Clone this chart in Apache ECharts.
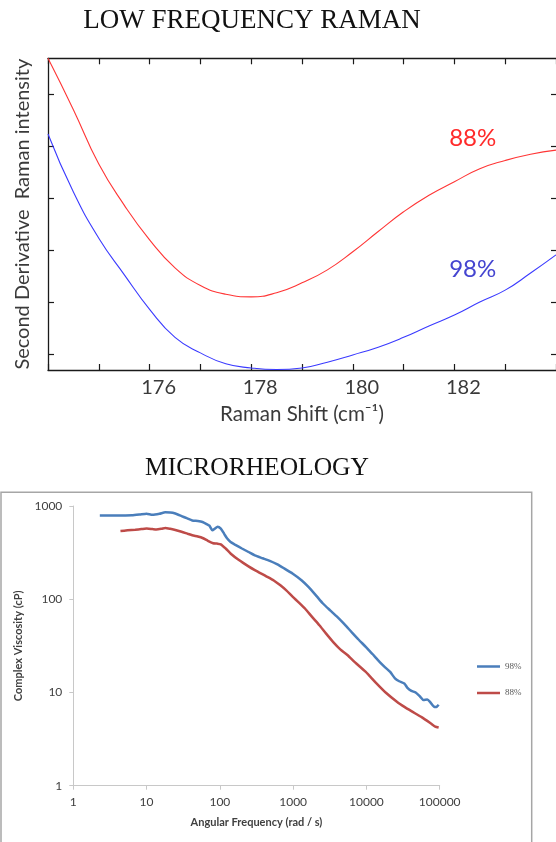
<!DOCTYPE html>
<html>
<head>
<meta charset="utf-8">
<script src="https://cdn.jsdelivr.net/npm/echarts@6/dist/echarts.min.js"></script>
<style>
html,body{margin:0;padding:0;background:#fff;}
#chartTop{position:absolute;left:0;top:0;width:556px;height:430px;}
#chartBot{position:absolute;left:0;top:430px;width:556px;height:412px;}
</style>
</head>
<body>
<div id="chartTop"></div>
<div id="chartBot"></div>
<script>
// ---- Top chart: Low frequency Raman (second derivative, arbitrary units) ----
const ramanShift = [174, 174.5, 175, 175.5, 176, 176.5, 177, 177.5, 178, 178.5, 179, 179.5, 180, 180.5, 181, 181.5, 182, 182.5, 183, 183.5, 184];
const raman88 = [5.70, 4.71, 3.66, 2.87, 2.20, 1.66, 1.32, 1.15, 1.10, 1.18, 1.37, 1.62, 1.97, 2.36, 2.74, 3.06, 3.32, 3.57, 3.73, 3.85, 3.93];
const raman98 = [4.24, 3.12, 2.23, 1.53, 0.86, 0.32, 0.02, -0.19, -0.27, -0.30, -0.27, -0.16, -0.02, 0.13, 0.32, 0.54, 0.75, 1.00, 1.23, 1.56, 1.91];
const ramanTickLabels = [176, 178, 180, 182];
const ramanXTicks = [174, 175, 176, 177, 178, 179, 180, 181, 182, 183, 184];
const ramanYTicks = [0, 1, 2, 3, 4, 5];

// ---- Bottom chart: Microrheology ----
const freq98 = [2.3, 3, 4, 6.3, 8, 10, 12, 15, 18, 21, 24, 30, 36, 42, 50, 58, 66, 72, 79, 86, 93, 103, 115, 126, 140, 158, 200, 246, 300, 384, 480, 600, 750, 990, 1300, 1630, 2090, 2550, 3200, 3970, 5000, 6190, 7800, 9800, 12000, 15100, 18000, 21100, 24500, 28000, 32900, 36000, 41100, 47000, 54200, 60000, 67700, 75000, 84700, 90000, 96800];
const visc98 = [790, 790, 790, 795, 810, 828, 805, 825, 855, 850, 835, 780, 735, 700, 690, 674, 640, 615, 549, 575, 600, 572, 500, 447, 410, 388, 350, 321, 295, 275, 258, 238, 215, 188, 160, 135, 108, 90, 76, 65, 54, 45, 37, 30.8, 26, 21.3, 18.6, 16.6, 14.2, 13.2, 12.5, 11.3, 10.4, 10, 9.0, 8.3, 8.4, 7.8, 7.0, 7.0, 7.4];
const freq88 = [4.4, 5.5, 7, 8.5, 10, 12, 13.6, 16, 18, 21, 24, 30, 36, 42, 50, 58, 68, 81, 92, 103, 120, 141, 180, 246, 300, 430, 550, 670, 800, 990, 1200, 1460, 1800, 2280, 2800, 3550, 4400, 5550, 7000, 9800, 13500, 18800, 26300, 33000, 41100, 57300, 75700, 87000, 96800];
const visc88 = [540, 548, 557, 565, 572, 565, 560, 570, 581, 570, 557, 530, 505, 485, 470, 454, 425, 398, 395, 388, 350, 308, 265, 225, 205, 176, 158, 141, 125, 106, 92, 79, 65, 52.6, 43, 34.5, 29, 25.1, 21, 16.6, 12.7, 9.8, 7.9, 7.0, 6.3, 5.4, 4.65, 4.3, 4.2];

const zip = (a, b) => a.map((v, i) => [v, b[i]]);
const blackAxis = () => ({show: true, onZero: false, lineStyle: {color: '#1a1a1a', width: 1.3}});
const blackTick = () => ({show: true, inside: true, length: 6, lineStyle: {color: '#1a1a1a', width: 1.2}});
const lightAxis = () => ({show: true, onZero: false, lineStyle: {color: '#c8c8c8', width: 1}});
const lightTick = () => ({show: true, inside: false, length: 4, lineStyle: {color: '#c8c8c8', width: 1}});
const logFmt = v => String(Math.round(v));

// ===== Top chart =====
const topChart = echarts.init(document.getElementById('chartTop'), null, {renderer: 'canvas', devicePixelRatio: 1});
topChart.setOption({
  animation: false,
  backgroundColor: '#fff',
  grid: [{left: 48, top: 58.3, width: 508, height: 314.7}],
  xAxis: [
    {gridIndex: 0, type: 'value', min: 174, max: 184, interval: 1, position: 'bottom',
      axisLine: blackAxis(), axisTick: Object.assign(blackTick(), {customValues: ramanXTicks}), splitLine: {show: false},
      axisLabel: {customValues: ramanTickLabels, fontSize: 20, fontFamily: 'Lato', color: '#3a3a3a', margin: 8, padding: [0, 0, 0, 18]},
      name: 'Raman Shift (cm\u207B\u00B9)', nameLocation: 'middle', nameGap: 34,
      nameTextStyle: {fontFamily: 'Lato', fontSize: 20.5, color: '#3a3a3a'}},
    {gridIndex: 0, type: 'value', min: 174, max: 184, interval: 1, position: 'top',
      axisLine: blackAxis(), axisTick: Object.assign(blackTick(), {customValues: ramanXTicks}),
      axisLabel: {show: false}, splitLine: {show: false}}
  ],
  yAxis: [
    {gridIndex: 0, type: 'value', min: -0.31, max: 5.70, position: 'left', axisLine: blackAxis(),
      axisTick: Object.assign(blackTick(), {customValues: ramanYTicks}), axisLabel: {show: false}, splitLine: {show: false},
      name: 'Second Derivative  Raman intensity', nameLocation: 'middle', nameGap: 15,
      nameTextStyle: {fontFamily: 'Lato', fontSize: 20, color: '#3a3a3a'}},
    {gridIndex: 0, type: 'value', min: -0.31, max: 5.70, position: 'right', axisLine: {show: false, onZero: false},
      axisTick: Object.assign(blackTick(), {customValues: ramanYTicks, length: 5}), axisLabel: {show: false}, splitLine: {show: false}}
  ],
  series: [
    {name: 'Raman 88%', type: 'line', xAxisIndex: 0, yAxisIndex: 0, data: zip(ramanShift, raman88),
      smooth: 0.5, symbol: 'none', lineStyle: {color: '#ff3535', width: 1.1}, itemStyle: {color: '#ff3535'}},
    {name: 'Raman 98%', type: 'line', xAxisIndex: 1, yAxisIndex: 1, data: zip(ramanShift, raman98),
      smooth: 0.5, symbol: 'none', lineStyle: {color: '#3a3aff', width: 1.1}, itemStyle: {color: '#3a3aff'}}
  ]
});
// series labels placed in data space through the chart's own scales
const p88 = topChart.convertToPixel({xAxisIndex: 0, yAxisIndex: 0}, [182.36, 4.16]);
const p98 = topChart.convertToPixel({xAxisIndex: 1, yAxisIndex: 1}, [182.36, 1.64]);
topChart.setOption({
  graphic: [
    {type: 'text', x: 252, y: 21, style: {text: 'LOW FREQUENCY RAMAN', fontSize: 27, fontFamily: 'Liberation Serif', fill: '#111', align: 'center', verticalAlign: 'middle'}},
    {type: 'text', x: p88[0], y: p88[1], style: {text: '88%', fontSize: 24, fontFamily: 'Lato', fill: '#ff2a2a', align: 'center', verticalAlign: 'middle'}},
    {type: 'text', x: p98[0], y: p98[1], style: {text: '98%', fontSize: 24, fontFamily: 'Lato', fill: '#4545d0', align: 'center', verticalAlign: 'middle'}}
  ]
});

// ===== Bottom chart =====
const botChart = echarts.init(document.getElementById('chartBot'), null, {renderer: 'canvas', devicePixelRatio: 1});
botChart.setOption({
  animation: false,
  backgroundColor: '#fff',
  legend: {
    data: ['98%', '88%'], orient: 'vertical', left: 472, top: 227,
    icon: 'rect', itemWidth: 23, itemHeight: 2.5, itemGap: 17.5,
    textStyle: {fontSize: 9, fontFamily: 'Liberation Serif', color: '#595959'}
  },
  grid: [{left: 73.3, top: 76, width: 366.4, height: 279.7}],
  xAxis: [{
    type: 'log', logBase: 10, min: 1, max: 100000, position: 'bottom',
    axisLine: lightAxis(), axisTick: lightTick(), splitLine: {show: false}, minorTick: {show: false},
    axisLabel: {formatter: logFmt, fontFamily: 'Lato', fontSize: 12, color: '#404040', margin: 10},
    name: 'Angular Frequency (rad / s)', nameLocation: 'middle', nameGap: 31,
    nameTextStyle: {fontFamily: 'Lato', fontSize: 11, fontWeight: 'bold', color: '#404040'}
  }],
  yAxis: [{
    type: 'log', logBase: 10, min: 1, max: 1000,
    axisLine: lightAxis(), axisTick: lightTick(), splitLine: {show: false}, minorTick: {show: false},
    axisLabel: {formatter: logFmt, fontFamily: 'Lato', fontSize: 12, color: '#404040', margin: 11},
    name: 'Complex Viscosity (cP)', nameLocation: 'middle', nameGap: 44,
    nameTextStyle: {fontFamily: 'Lato', fontSize: 11, fontWeight: 'bold', color: '#404040'}
  }],
  series: [
    {name: '98%', type: 'line', data: zip(freq98, visc98), symbol: 'none', smooth: 0.2,
      lineStyle: {color: '#4a7ebb', width: 2.5}, itemStyle: {color: '#4a7ebb'}},
    {name: '88%', type: 'line', data: zip(freq88, visc88), symbol: 'none', smooth: 0.2,
      lineStyle: {color: '#be4b48', width: 2.5}, itemStyle: {color: '#be4b48'}}
  ]
});
botChart.setOption({
  graphic: [
    {type: 'text', x: 257, y: 38.5, style: {text: 'MICRORHEOLOGY', fontSize: 25.5, fontFamily: 'Liberation Serif', fill: '#111', align: 'center', verticalAlign: 'middle'}},
    {type: 'rect', z: -10, shape: {x: 1, y: 62.3, width: 530.7, height: 420}, style: {fill: 'none', stroke: '#a6a6a6', lineWidth: 1.5}}
  ]
});
</script>
</body>
</html>
